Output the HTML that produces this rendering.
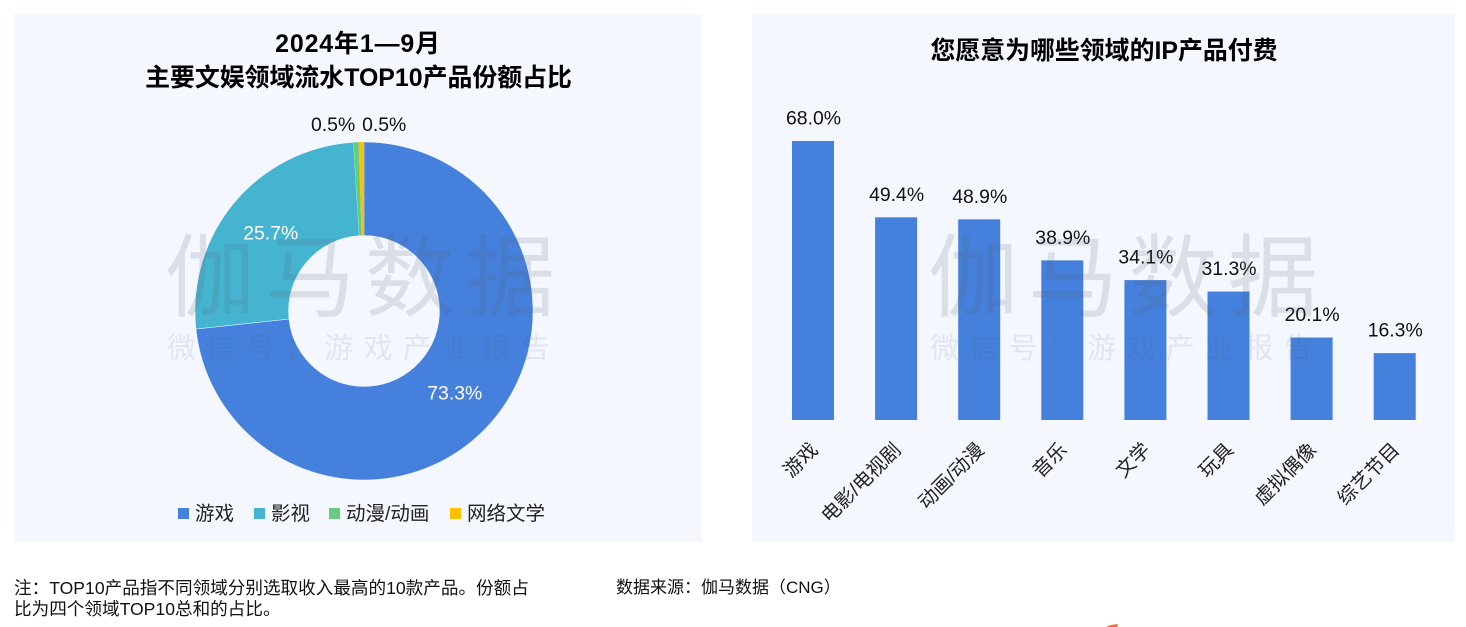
<!DOCTYPE html>
<html lang="zh-CN">
<head>
<meta charset="utf-8">
<title>文娱领域份额与IP付费意愿</title>
<style>
html,body{margin:0;padding:0;background:#fff;width:1466px;height:627px;overflow:hidden}
svg{display:block;font-family:"Liberation Sans","Noto Sans CJK SC",sans-serif}
.title{font-size:24.9px;font-weight:700;fill:#000;text-anchor:middle}
.lbl{font-size:19.4px;fill:#111}
.legend{font-size:19.5px;fill:#222}
.cat{font-size:19.5px;fill:#222}
.note{font-size:17.6px;fill:#111}
.src{font-size:17px;fill:#111}
.wm1{font-size:90px;letter-spacing:10px;fill:rgba(90,100,115,.17)}
.wm2{font-size:29px;letter-spacing:10.3px;fill:rgba(90,100,115,.12)}
</style>
</head>
<body>
<svg id="root" xmlns="http://www.w3.org/2000/svg" width="1466" height="627" viewBox="0 0 1466 627">
  <rect x="14" y="14" width="688" height="528" fill="#F4F7FE"/>
  <rect x="752" y="14" width="703" height="528" fill="#F4F7FE"/>

  <text class="title" x="358" y="52" style="letter-spacing:.9px">2024年1—9月</text>
  <text class="title" x="358.5" y="86">主要文娱领域流水TOP10产品份额占比</text>
  <text class="title" x="1104" y="59">您愿意为哪些领域的IP产品付费</text>

  <g id="donut"></g>
  <g id="bars"></g>

  <g>
    <text class="wm1" x="165" y="309">伽马数据</text>
    <text class="wm2" x="167" y="358">微信号：游戏产业报告</text>
  </g>
  <g>
    <text class="wm1" x="928" y="309">伽马数据</text>
    <text class="wm2" x="930" y="358">微信号：游戏产业报告</text>
  </g>

  <g>
    <g>
      <rect x="178" y="508" width="11" height="11" fill="#4480DC"/>
      <text class="legend" x="195" y="520">游戏</text>
    </g>
    <g>
      <rect x="254" y="508" width="11" height="11" fill="#45B4D0"/>
      <text class="legend" x="271" y="520">影视</text>
    </g>
    <g>
      <rect x="329" y="508" width="11" height="11" fill="#66CC80"/>
      <text class="legend" x="346" y="520">动漫/动画</text>
    </g>
    <g>
      <rect x="450" y="508" width="11" height="11" fill="#FFC000"/>
      <text class="legend" x="467" y="520">网络文学</text>
    </g>
  </g>

  <text class="note" x="14" y="594">注：TOP10产品指不同领域分别选取收入最高的10款产品。份额占</text>
  <text class="note" x="14" y="615">比为四个领域TOP10总和的占比。</text>
  <text class="src" x="616" y="593">数据来源：伽马数据（CNG）</text>
  <path d="M1106 627 L1111 625 L1118 624 L1117 627 Z" fill="#F56A2E"/>
</svg>

<script>
var donutNames = ['游戏', '影视', '动漫/动画', '网络文学'];
var donutValues = [73.3, 25.7, 0.5, 0.5];
var donutColors = ['#4480DC', '#45B4D0', '#66CC80', '#FFC000'];

var barCategories = ['游戏', '电影/电视剧', '动画/动漫', '音乐', '文学', '玩具', '虚拟偶像', '综艺节目'];
var barValues = [68.0, 49.4, 48.9, 38.9, 34.1, 31.3, 20.1, 16.3];

var NS = 'http://www.w3.org/2000/svg';

function svgEl(tag, parent) {
  var el = document.createElementNS(NS, tag);
  parent.appendChild(el);
  return el;
}

/* donut */
var donutGroup = document.getElementById('donut');
var cx = 364, cy = 311, rOuter = 169, rInner = 75.5, rLabel = 122, rOutside = 187;
var donutTotal = donutValues.reduce(function (a, b) { return a + b; }, 0);

function polar(r, frac) {
  var a = frac * 2 * Math.PI;
  return [cx + r * Math.sin(a), cy - r * Math.cos(a)];
}

var running = 0;
donutValues.forEach(function (v, i) {
  var start = running / donutTotal;
  var end = (running + v) / donutTotal;
  running += v;
  var p1 = polar(rOuter, start), p2 = polar(rOuter, end);
  var p3 = polar(rInner, end), p4 = polar(rInner, start);
  var large = end - start > 0.5 ? 1 : 0;
  var slice = svgEl('path', donutGroup);
  
  
  slice.setAttribute('d', 'M' + p1[0] + ' ' + p1[1] +
    ' A' + rOuter + ' ' + rOuter + ' 0 ' + large + ' 1 ' + p2[0] + ' ' + p2[1] +
    ' L' + p3[0] + ' ' + p3[1] +
    ' A' + rInner + ' ' + rInner + ' 0 ' + large + ' 0 ' + p4[0] + ' ' + p4[1] + ' Z');
  slice.setAttribute('fill', donutColors[i]);
  if (v / donutTotal > 0.05) {
    slice.setAttribute('stroke', '#F4F7FE');
    slice.setAttribute('stroke-width', '0.5');
  }
  var title = svgEl('title', slice);
  title.textContent = donutNames[i];

  var mid = (start + end) / 2;
  var label = svgEl('text', donutGroup);
  
  
  label.setAttribute('class', 'lbl');
  label.textContent = v.toFixed(1) + '%';
  if (v / donutTotal > 0.05) {
    var pIn = polar(rLabel, mid);
    label.setAttribute('x', pIn[0]);
    label.setAttribute('y', pIn[1] + 7);
    label.setAttribute('text-anchor', 'middle');
    label.setAttribute('style', 'fill:#fff');
  } else {
    var pOut = polar(rOutside, mid);
    var isLast = i === donutValues.length - 1;
    label.setAttribute('x', pOut[0] + (isLast ? 1 : 0));
    label.setAttribute('y', pOut[1] + 7);
    label.setAttribute('text-anchor', isLast ? 'start' : 'end');
  }
});

/* bars */
var barGroup = document.getElementById('bars');
var plotBaseY = 420, pxPerUnit = 4.103, firstCenter = 813, step = 83.1, barWidth = 42;

function yScale(v) { return plotBaseY - v * pxPerUnit; }
function xScale(i) { return firstCenter + i * step; }

barValues.forEach(function (v, i) {
  var x = xScale(i), y = yScale(v);
  var bar = svgEl('rect', barGroup);
  
  
  bar.setAttribute('x', x - barWidth / 2);
  bar.setAttribute('y', y);
  bar.setAttribute('width', barWidth);
  bar.setAttribute('height', plotBaseY - y);
  bar.setAttribute('fill', '#4480DC');

  var val = svgEl('text', barGroup);
  
  
  val.setAttribute('class', 'lbl');
  val.setAttribute('x', x + 0.5);
  val.setAttribute('y', y - 16.5);
  val.setAttribute('text-anchor', 'middle');
  val.textContent = v.toFixed(1) + '%';

  var cat = svgEl('text', barGroup);
  
  
  cat.setAttribute('class', 'cat');
  cat.setAttribute('text-anchor', 'end');
  cat.setAttribute('transform', 'translate(' + (x + 6) + ' 451) rotate(-45)');
  cat.textContent = barCategories[i];
});
</script>
</body>
</html>
